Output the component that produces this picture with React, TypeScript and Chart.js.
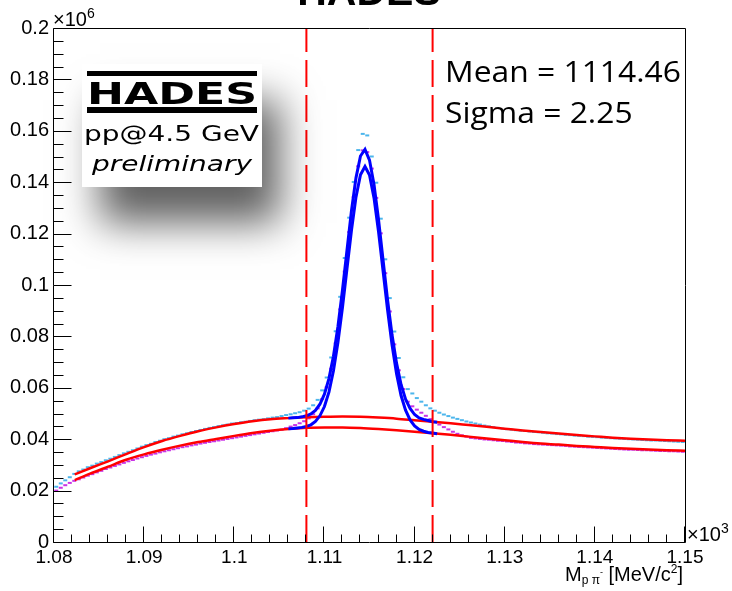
import { useEffect, useRef } from 'react';
import { Chart, registerables } from 'chart.js';

Chart.register(...registerables);

const W = 732;
const H = 591;

// Histogram bins (MeV): first bin centre and bin width
const BIN_FIRST_CENTER = 1080.25;
const BIN_WIDTH = 0.5;

// Data, counts in thousands (axis unit is 10^6 counts)
const CYAN_K = [
  21.5, 22.8, 24.0, 25.2, 26.5, 27.5, 28.2, 29.1, 29.7, 30.5,
  31.1, 31.8, 32.4, 33.1, 33.8, 34.5, 35.1, 35.7, 36.4, 37.1,
  37.7, 38.2, 38.9, 39.4, 40.0, 40.4, 41.0, 41.4, 41.9, 42.3,
  42.8, 43.2, 43.6, 44.0, 44.4, 44.7, 45.1, 45.4, 45.7, 46.1,
  46.3, 46.6, 46.8, 47.1, 47.4, 47.6, 47.8, 48.1, 48.4, 48.6,
  49.0, 49.4, 49.7, 50.1, 50.5, 51.1, 51.9, 53.2, 55.3, 59.0,
  64.0, 71.8, 82.0, 95.4, 110.5, 126.2, 140.1, 152.5, 158.8, 158.2,
  150.0, 139.8, 125.8, 110.0, 94.9, 81.9, 71.6, 64.1, 59.5, 57.8,
  56.0, 54.6, 53.2, 52.0, 51.1, 50.3, 49.6, 49.0, 48.4, 47.9,
  47.4, 46.9, 46.5, 46.1, 45.7, 45.3, 45.0, 44.7, 44.4, 44.1,
  43.9, 43.7, 43.5, 43.3, 43.2, 43.0, 42.8, 42.7, 42.5, 42.3,
  42.2, 42.0, 41.9, 41.7, 41.6, 41.4, 41.3, 41.2, 41.0, 40.9,
  40.8, 40.6, 40.5, 40.4, 40.3, 40.2, 40.1, 40.0, 39.9, 39.8,
  39.7, 39.6, 39.5, 39.5, 39.4, 39.3, 39.2, 39.1, 39.0, 38.9,
];

const MAGENTA_K = [
  20.0, 21.1, 22.1, 23.0, 23.8, 24.4, 25.1, 25.8, 26.4, 27.1,
  27.7, 28.4, 29.0, 29.6, 30.2, 30.8, 31.4, 31.9, 32.5, 33.0,
  33.5, 34.0, 34.4, 34.9, 35.3, 35.7, 36.1, 36.5, 36.9, 37.2,
  37.6, 37.9, 38.3, 38.6, 38.9, 39.2, 39.5, 39.8, 40.1, 40.4,
  40.7, 41.0, 41.3, 41.6, 41.9, 42.2, 42.5, 42.8, 43.1, 43.4,
  43.7, 44.3, 44.9, 45.5, 46.2, 47.0, 48.1, 49.7, 52.0, 55.6,
  60.2, 67.4, 77.3, 90.5, 105.2, 120.6, 134.2, 146.2, 152.4, 151.7,
  145.3, 133.9, 120.1, 104.6, 89.7, 76.9, 66.8, 59.5, 54.6, 52.8,
  51.5, 50.3, 49.1, 47.8, 46.7, 45.7, 44.7, 43.8, 42.9, 42.1,
  41.5, 41.0, 40.5, 40.3, 40.1, 39.9, 39.8, 39.6, 39.4, 39.3,
  39.1, 38.9, 38.7, 38.6, 38.4, 38.3, 38.1, 38.0, 37.9, 37.8,
  37.7, 37.6, 37.5, 37.4, 37.2, 37.1, 37.0, 36.9, 36.8, 36.7,
  36.6, 36.5, 36.4, 36.3, 36.2, 36.1, 36.0, 35.9, 35.9, 35.8,
  35.7, 35.7, 35.6, 35.5, 35.4, 35.4, 35.3, 35.3, 35.2, 35.1,
];

// Signal + background fits (blue)
const FIT_X_MEV = [
  1106, 1106.5, 1107, 1107.5, 1108, 1108.5, 1109, 1109.5, 1110, 1110.5,
  1111, 1111.5, 1112, 1112.5, 1113, 1113.5, 1114, 1114.5, 1115, 1115.5,
  1116, 1116.5, 1117, 1117.5, 1118, 1118.5, 1119, 1119.5, 1120, 1120.5,
  1121, 1121.5, 1122, 1122.5,
];
const FIT_UPPER_K = [
  48.2, 48.3, 48.4, 48.7, 49.1, 49.8, 51.2, 53.6, 57.5, 63.6,
  72.3, 83.9, 98.0, 113.5, 128.9, 141.7, 150.2, 152.8, 148.6, 139.1,
  125.5, 109.9, 94.3, 80.6, 69.6, 61.3, 55.6, 52.0, 49.6, 48.3,
  47.7, 47.3, 46.8, 46.6,
];
const FIT_LOWER_K = [
  44.1, 44.2, 44.4, 44.6, 45.0, 45.6, 46.9, 49.1, 52.7, 58.3,
  66.6, 77.7, 91.2, 106.3, 121.3, 134.2, 142.9, 146.1, 142.8, 133.9,
  120.8, 105.6, 90.4, 76.7, 65.5, 57.0, 51.3, 47.5, 45.2, 43.8,
  43.1, 42.6, 42.4, 42.1,
];

// Background fits (red)
const BG_X_MEV = [
  1082.3, 1084, 1086, 1088, 1090, 1092, 1094, 1096, 1098, 1100,
  1102, 1104, 1106, 1108, 1110, 1112, 1114, 1116, 1118, 1120,
  1122, 1124, 1126, 1128, 1130, 1132, 1134, 1136, 1138, 1140,
  1142, 1144, 1146, 1148, 1150,
];
const BG_UPPER_K = [
  26.3, 28.7, 31.4, 34.2, 36.9, 39.3, 41.3, 43.1, 44.6, 45.9,
  47.0, 47.8, 48.2, 48.5, 48.7, 48.8, 48.7, 48.4, 48.0, 47.4,
  46.8, 46.2, 45.5, 44.8, 44.1, 43.4, 42.8, 42.2, 41.6, 41.1,
  40.6, 40.2, 39.9, 39.6, 39.4,
];
const BG_LOWER_K = [
  24.1, 26.6, 29.3, 32.0, 34.1, 35.9, 37.5, 38.9, 40.1, 41.3,
  42.4, 43.3, 44.0, 44.5, 44.6, 44.6, 44.4, 44.0, 43.5, 42.9,
  42.3, 41.7, 41.0, 40.3, 39.6, 38.9, 38.3, 37.9, 37.4, 37.0,
  36.6, 36.3, 36.0, 35.7, 35.5,
];

// Mass window (MeV)
const WINDOW_MEV = [1108, 1122];

const X_TICKS = [1.08, 1.09, 1.1, 1.11, 1.12, 1.13, 1.14, 1.15];
const Y_TICKS = [0, 0.02, 0.04, 0.06, 0.08, 0.1, 0.12, 0.14, 0.16, 0.18, 0.2];
const X_MINOR_PER_MAJOR = 5;
const Y_MINOR_PER_MAJOR = 4;

const TITLE = 'HADES';
const MEAN_TEXT = 'Mean = 1114.46';
const SIGMA_TEXT = 'Sigma = 2.25';
const LOGO_LINE1 = 'pp@4.5 GeV';
const LOGO_LINE2 = 'preliminary';

const ROOT_FONT = '"Liberation Sans", Arial, sans-serif';
const CYAN = '#4db6ec';
const MAGENTA = '#c933e6';
const BLUE = '#0000ff';
const RED = '#ff0000';

const fmt = (v: number) => String(Number(Number(v).toFixed(3)));
const binCenters = CYAN_K.map((_, i) => BIN_FIRST_CENTER + BIN_WIDTH * i);
const toPts = (xs: number[], ys: number[]) =>
  xs.map((x, i) => ({ x: x / 1000, y: ys[i] / 1000 }));

function fitText(ctx: CanvasRenderingContext2D, text: string, x: number, y: number, width: number, font: string) {
  ctx.save();
  ctx.font = font;
  ctx.textAlign = 'left';
  ctx.textBaseline = 'alphabetic';
  const w = ctx.measureText(text).width;
  ctx.translate(x, y);
  ctx.scale(width / w, 1);
  ctx.fillText(text, 0, 0);
  ctx.restore();
}

type Part = { t: string; size: number; dy: number };
function richText(ctx: CanvasRenderingContext2D, parts: Part[], x: number, y: number, align: 'left' | 'right') {
  ctx.save();
  ctx.textAlign = 'left';
  ctx.textBaseline = 'alphabetic';
  let total = 0;
  const widths = parts.map((p) => {
    ctx.font = `${p.size}px ${ROOT_FONT}`;
    const w = ctx.measureText(p.t).width;
    total += w;
    return w;
  });
  let cx = align === 'right' ? x - total : x;
  parts.forEach((p, i) => {
    ctx.font = `${p.size}px ${ROOT_FONT}`;
    ctx.fillText(p.t, cx, y + p.dy);
    cx += widths[i];
  });
  ctx.restore();
}

const decorPlugin = {
  id: 'decor',
  afterDraw(chart: any) {
    const { ctx, chartArea: a, scales } = chart;
    const xs = scales.x;
    const ys = scales.y;
    const L = Math.round(a.left) - 0.5;
    const R = Math.round(a.right) + 0.5;
    const T = Math.round(a.top) + 0.5;
    const B = Math.round(a.bottom) + 0.5;
    ctx.save();
    ctx.strokeStyle = '#000';
    ctx.lineWidth = 1;
    ctx.beginPath();
    ctx.moveTo(L, T); ctx.lineTo(R, T); ctx.lineTo(R, B); ctx.lineTo(L, B); ctx.closePath();
    ctx.stroke();

    // x ticks
    const xStep = (X_TICKS[1] - X_TICKS[0]) / X_MINOR_PER_MAJOR;
    const nx = (X_TICKS.length - 1) * X_MINOR_PER_MAJOR;
    ctx.beginPath();
    for (let i = 0; i <= nx; i++) {
      const px = Math.round(xs.getPixelForValue(X_TICKS[0] + i * xStep)) - 0.5;
      const len = i % X_MINOR_PER_MAJOR === 0 ? 16 : 8;
      ctx.moveTo(px, B); ctx.lineTo(px, B - len);
    }
    // y ticks
    const yStep = (Y_TICKS[1] - Y_TICKS[0]) / Y_MINOR_PER_MAJOR;
    const ny = (Y_TICKS.length - 1) * Y_MINOR_PER_MAJOR;
    for (let i = 0; i <= ny; i++) {
      const py = Math.round(ys.getPixelForValue(Y_TICKS[0] + i * yStep)) + 0.5;
      const len = i % Y_MINOR_PER_MAJOR === 0 ? 18 : 10;
      ctx.moveTo(L, py); ctx.lineTo(L + len, py);
    }
    ctx.stroke();

    ctx.fillStyle = '#000';
    // exponents
    richText(ctx, [{ t: '\u00d710', size: 20, dy: 0 }, { t: '6', size: 14, dy: -8 }], 53, 26, 'left');
    richText(ctx, [{ t: '\u00d710', size: 20, dy: 0 }, { t: '3', size: 14, dy: -8 }], 687, 541, 'left');

    // axis title
    richText(ctx, [
      { t: 'M', size: 20, dy: 0 },
      { t: 'p \u03c0', size: 12, dy: 3 },
      { t: '-', size: 9, dy: -6 },
      { t: ' [MeV/c', size: 20, dy: 0 },
      { t: '2', size: 12, dy: -8 },
      { t: ']', size: 20, dy: 0 },
    ], 683, 581, 'right');

    // title (cropped at top)
    ctx.save();
    ctx.font = `bold 41px ${ROOT_FONT}`;
    ctx.textAlign = 'center';
    ctx.textBaseline = 'alphabetic';
    ctx.fillText(TITLE, 369, 5);
    ctx.restore();

    // logo box with shadow
    ctx.save();
    ctx.shadowColor = 'rgba(0,0,0,0.62)';
    ctx.shadowBlur = 38;
    ctx.shadowOffsetX = 18;
    ctx.shadowOffsetY = 36;
    ctx.fillStyle = '#fff';
    ctx.fillRect(82, 64, 180, 123);
    ctx.restore();
    ctx.fillStyle = '#000';
    ctx.fillRect(87, 71, 170, 5);
    ctx.fillRect(87, 107, 170, 6);
    fitText(ctx, TITLE, 87, 104, 170, 'bold 31px "DejaVu Sans"');
    fitText(ctx, LOGO_LINE1, 84, 140.5, 175, '22px "DejaVu Sans"');
    fitText(ctx, LOGO_LINE2, 92, 171, 160, 'italic 22px "DejaVu Sans"');

    // stats text
    ctx.save();
    ctx.font = '30px "Open Sans"';
    ctx.textAlign = 'left';
    ctx.textBaseline = 'alphabetic';
    const s = 236 / ctx.measureText(MEAN_TEXT).width;
    ctx.fillStyle = '#000';
    ctx.translate(445, 81.5);
    ctx.scale(s, 1);
    ctx.fillText(MEAN_TEXT, 0, 0);
    ctx.fillText(SIGMA_TEXT, 0, 41.8);
    ctx.restore();

    ctx.restore();
  },
};

export default function App() {
  const ref = useRef<HTMLCanvasElement>(null);
  useEffect(() => {
    document.body.style.margin = '0';
    const canvas = ref.current as HTMLCanvasElement;
    const pointDs = (label: string, ys: number[], color: string) => ({
      label,
      data: toPts(binCenters, ys),
      showLine: false,
      pointStyle: 'line',
      pointRadius: 2,
      pointBorderWidth: 2,
      pointBorderColor: color,
      pointBackgroundColor: color,
      borderColor: color,
    });
    const lineDs = (label: string, xs: number[], ys: number[], color: string, width: number, smooth: boolean) => ({
      label,
      data: toPts(xs, ys),
      borderColor: color,
      borderWidth: width,
      pointRadius: 0,
      fill: false,
      tension: 0,
      cubicInterpolationMode: smooth ? 'monotone' : 'default',
    });
    const windowDs = (m: number) => ({
      label: 'window ' + m,
      data: [{ x: m / 1000, y: Y_TICKS[0] }, { x: m / 1000, y: Y_TICKS[Y_TICKS.length - 1] }],
      borderColor: RED,
      borderWidth: 2,
      borderDash: [27, 8],
      pointRadius: 0,
      fill: false,
    });
    const chart = new Chart(canvas, {
      type: 'line',
      data: {
        datasets: [
          windowDs(WINDOW_MEV[0]),
          windowDs(WINDOW_MEV[1]),
          lineDs('fit upper', FIT_X_MEV, FIT_UPPER_K, BLUE, 3, false),
          lineDs('fit lower', FIT_X_MEV, FIT_LOWER_K, BLUE, 3, false),
          lineDs('bg upper', BG_X_MEV, BG_UPPER_K, RED, 2.5, true),
          lineDs('bg lower', BG_X_MEV, BG_LOWER_K, RED, 2.5, true),
          pointDs('data A', CYAN_K, CYAN),
          pointDs('data B', MAGENTA_K, MAGENTA),
        ] as any,
      },
      options: {
        responsive: false,
        animation: false,
        devicePixelRatio: 1,
        layout: { padding: { left: 0, right: 47, top: 28, bottom: 0 } },
        plugins: {
          legend: { display: false },
          tooltip: { enabled: false },
          title: { display: false },
        },
        scales: {
          x: {
            type: 'linear',
            min: X_TICKS[0],
            max: X_TICKS[X_TICKS.length - 1],
            afterBuildTicks: (s: any) => { s.ticks = X_TICKS.map((v) => ({ value: v })); },
            afterFit: (s: any) => { s.height = 49; },
            grid: { display: false, drawTicks: false },
            border: { display: false },
            ticks: {
              color: '#000',
              padding: 4,
              maxRotation: 0,
              autoSkip: false,
              font: { family: ROOT_FONT, size: 19 },
              callback: (v: any) => fmt(v),
            },
          },
          y: {
            type: 'linear',
            min: Y_TICKS[0],
            max: Y_TICKS[Y_TICKS.length - 1],
            afterBuildTicks: (s: any) => { s.ticks = Y_TICKS.map((v) => ({ value: v })); },
            afterFit: (s: any) => { s.width = 54; },
            grid: { display: false, drawTicks: false },
            border: { display: false },
            ticks: {
              color: '#000',
              padding: 5,
              autoSkip: false,
              font: { family: ROOT_FONT, size: 20 },
              callback: (v: any) => fmt(v),
            },
          },
        },
      } as any,
      plugins: [decorPlugin],
    });
    return () => chart.destroy();
  }, []);
  return (
    <div style={{ width: W, height: H }}>
      <canvas ref={ref} width={W} height={H} style={{ display: 'block', width: W, height: H }} />
    </div>
  );
}
